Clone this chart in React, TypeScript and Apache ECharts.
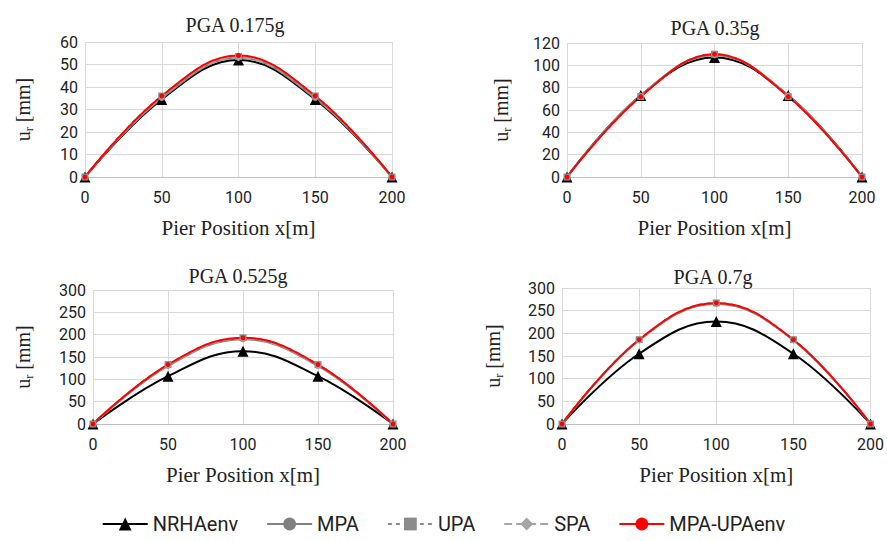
import React, { useEffect, useRef } from "react";
import * as echarts from "echarts";

const pierX = [0, 50, 100, 150, 200];
const titles = ["PGA 0.175g", "PGA 0.35g", "PGA 0.525g", "PGA 0.7g"];
const yMax = [60, 120, 300, 300];
const yStep = [10, 20, 50, 50];

const nrhaEnv = [
  [0, 34.5, 52, 34.5, 0],
  [0, 73, 107, 73, 0],
  [0, 107, 163, 107, 0],
  [0, 155, 226, 155, 0],
];
const mpa = [
  [0, 35, 53, 35, 0],
  [0, 73, 109, 73, 0],
  [0, 130, 190, 130, 0],
  [0, 185, 265, 185, 0],
];
const upa = [
  [0, 36, 53.5, 36, 0],
  [0, 72, 110, 72, 0],
  [0, 133, 193, 133, 0],
  [0, 186, 267, 186, 0],
];
const spa = [
  [0, 35.5, 53, 35.5, 0],
  [0, 72.5, 109.5, 72.5, 0],
  [0, 131, 191, 131, 0],
  [0, 185, 266, 185, 0],
];
const mpaUpaEnv = [
  [0, 36, 54, 36, 0],
  [0, 72, 110, 72, 0],
  [0, 133, 193, 133, 0],
  [0, 186, 267, 186, 0],
];

const grids = [
  { left: 85, top: 42, width: 307, height: 135 },
  { left: 567, top: 43, width: 295, height: 134 },
  { left: 93, top: 290, width: 300, height: 134 },
  { left: 562, top: 288, width: 310, height: 136 },
];
const titlePos = [
  { x: 230, y: 10 },
  { x: 710, y: 13 },
  { x: 233, y: 261 },
  { x: 708, y: 262 },
];
const yNameGap = [50, 54, 58, 57];

const serif = "'Liberation Serif', 'Times New Roman', serif";
const sans = "Roboto, 'Open Sans', sans-serif";

const toPairs = (ys: number[]) => pierX.map((x, i) => [x, ys[i]]);

export default function App() {
  const ref = useRef<HTMLDivElement>(null);
  useEffect(() => {
    if (!ref.current) return;
    const chart = echarts.init(ref.current, undefined, { renderer: "svg" });
    const series: any[] = [];
    for (let g = 0; g < 4; g++) {
      const common = { type: "line", xAxisIndex: g, yAxisIndex: g, smooth: 0.4 };
      series.push({
        ...common,
        name: "NRHAenv",
        data: toPairs(nrhaEnv[g]),
        symbol: "triangle",
        symbolSize: 11,
        itemStyle: { color: "#000000" },
        lineStyle: { color: "#000000", width: 2 },
      });
      series.push({
        ...common,
        name: "MPA",
        data: toPairs(mpa[g]),
        symbol: "circle",
        symbolSize: 6,
        itemStyle: { color: "#808080" },
        lineStyle: { color: "#808080", width: 2 },
      });
      series.push({
        ...common,
        name: "UPA",
        data: toPairs(upa[g]),
        symbol: "rect",
        symbolSize: 7,
        itemStyle: { color: "#8c8c8c" },
        lineStyle: { color: "#8c8c8c", width: 2, type: [4, 4] },
      });
      series.push({
        ...common,
        name: "SPA",
        data: toPairs(spa[g]),
        symbol: "diamond",
        symbolSize: 7,
        itemStyle: { color: "#a5a5a5" },
        lineStyle: { color: "#a5a5a5", width: 2, type: [8, 4] },
      });
      series.push({
        ...common,
        name: "MPA-UPAenv",
        data: toPairs(mpaUpaEnv[g]),
        symbol: "circle",
        symbolSize: 5,
        itemStyle: { color: "#ff0000" },
        lineStyle: { color: "#ff0000", width: 2 },
      });
    }
    chart.setOption({
      animation: false,
      backgroundColor: "#ffffff",
      title: titles.map((t, i) => ({
        text: t,
        left: titlePos[i].x,
        top: titlePos[i].y,
        textAlign: "center",
        textStyle: { fontFamily: serif, fontSize: 20, fontWeight: "normal", color: "#222" },
      })),
      legend: {
        bottom: 2,
        left: "center",
        itemWidth: 45,
        itemHeight: 16,
        itemGap: 28,
        textStyle: { fontFamily: sans, fontSize: 20, color: "#222" },
        data: ["NRHAenv", "MPA", "UPA", "SPA", "MPA-UPAenv"],
      },
      grid: grids.map((g) => ({ ...g, containLabel: false })),
      xAxis: grids.map((_, i) => ({
        type: "value",
        gridIndex: i,
        min: 0,
        max: 200,
        interval: 50,
        name: "Pier Position x[m]",
        nameLocation: "middle",
        nameGap: 40,
        nameTextStyle: { fontFamily: serif, fontSize: 21, color: "#222" },
        axisLine: { show: true, lineStyle: { color: "#bfbfbf", width: 1 } },
        axisTick: { show: false },
        axisLabel: { fontFamily: sans, fontSize: 16, color: "#222", margin: 12 },
        splitLine: { show: true, lineStyle: { color: "#d9d9d9", width: 1 } },
      })),
      yAxis: grids.map((_, i) => ({
        type: "value",
        gridIndex: i,
        min: 0,
        max: yMax[i],
        interval: yStep[i],
        name: "{a|u}{b|r}{a| [mm]}",
        nameLocation: "middle",
        nameRotate: 90,
        nameGap: yNameGap[i],
        nameTextStyle: {
          fontFamily: serif,
          color: "#222",
          rich: {
            a: { fontFamily: serif, fontSize: 20, lineHeight: 24, color: "#222" },
            b: { fontFamily: serif, fontSize: 12, lineHeight: 24, verticalAlign: "bottom", color: "#222" },
          },
        },
        axisLine: { show: false },
        axisTick: { show: false },
        axisLabel: { fontFamily: sans, fontSize: 16, color: "#222", margin: 7 },
        splitLine: { show: true, lineStyle: { color: "#d9d9d9", width: 1 } },
      })),
      series,
    });
    return () => chart.dispose();
  }, []);
  return (
    <div
      ref={ref}
      style={{ position: "absolute", left: 0, top: 0, width: 887, height: 541 }}
    />
  );
}
